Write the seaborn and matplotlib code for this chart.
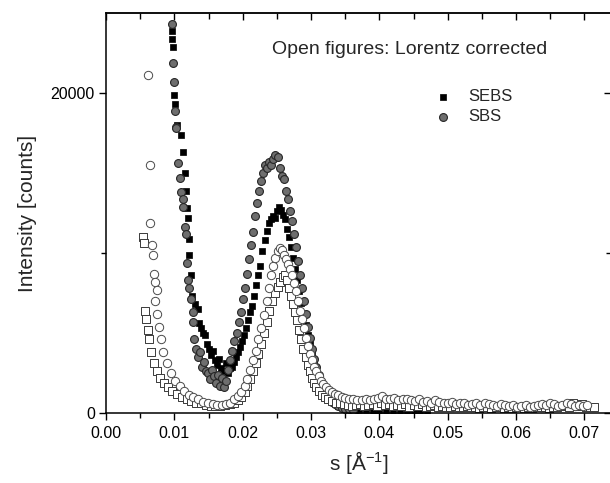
import matplotlib
matplotlib.use("Agg")
import matplotlib.pyplot as plt
import seaborn as sns
import pandas as pd
from matplotlib.ticker import MultipleLocator, FormatStrFormatter, NullFormatter

# ---------------- data ----------------
sebs_x = [0.0096, 0.0097, 0.0098, 0.0100, 0.0101, 0.0104, 0.0110, 0.0112, 0.0115, 0.0117,
          0.0119, 0.0120, 0.0121, 0.0122, 0.0124, 0.0126, 0.0130, 0.0134, 0.0136, 0.0139,
          0.0142, 0.0145, 0.0148, 0.0151, 0.0154, 0.0157, 0.0160, 0.0163, 0.0166, 0.0169,
          0.0172, 0.0175, 0.0178, 0.0181, 0.0184, 0.0187, 0.0190, 0.0193, 0.0196, 0.0199,
          0.0202, 0.0205, 0.0208, 0.0211, 0.0214, 0.0217, 0.0220, 0.0223, 0.0226, 0.0229,
          0.0232, 0.0235, 0.0238, 0.0241, 0.0244, 0.0247, 0.0250, 0.0253, 0.0256, 0.0259,
          0.0262, 0.0265, 0.0268, 0.0271, 0.0274, 0.0277, 0.0280, 0.0283, 0.0286, 0.0289,
          0.0292, 0.0295, 0.0298, 0.0301, 0.0304, 0.0307, 0.0310, 0.0313, 0.0316, 0.0319,
          0.0322, 0.0325, 0.0330, 0.0335, 0.0340, 0.0345, 0.0350, 0.0355, 0.0360, 0.0365,
          0.0370, 0.0380, 0.0390, 0.0400, 0.0410, 0.0420, 0.0430, 0.0440, 0.0450, 0.0460,
          0.0470]
sebs_y = [23900, 23400, 22900, 19900, 19300, 18000, 17400, 16300, 15000, 13900,
          12800, 12200, 10900, 9900, 8600, 7300, 6800, 6500, 5600, 5300,
          5000, 4900, 4300, 4000, 3600, 3900, 3300, 3000, 3400, 2800,
          2600, 3100, 2500, 2800, 2900, 3200, 3500, 3800, 4100, 4500,
          4900, 5300, 5800, 6300, 6700, 7300, 8000, 8600, 9200, 10100,
          10800, 11400, 11900, 12100, 12300, 12200, 12600, 12900, 12700, 12400,
          12100, 11500, 11000, 10400, 9700, 9000, 8300, 7600, 6900, 6200,
          5500, 4900, 4300, 3800, 3300, 2800, 2400, 2000, 1700, 1400,
          1150, 950, 750, 600, 450, 380, 300, 260, 220, 200,
          180, 160, 150, 140, 130, 120, 110, 100, 100, 90,
          90]

sbs_x = [0.0096, 0.0098, 0.0099, 0.0101, 0.0102, 0.0103, 0.0106, 0.0108, 0.0110, 0.0112,
         0.0113, 0.0115, 0.0117, 0.0118, 0.0120, 0.0122, 0.0124, 0.0127, 0.0128, 0.0129,
         0.0131, 0.0134, 0.0137, 0.0140, 0.0143, 0.0146, 0.0149, 0.0152, 0.0155, 0.0158,
         0.0161, 0.0164, 0.0167, 0.0170, 0.0173, 0.0176, 0.0179, 0.0182, 0.0185, 0.0188,
         0.0191, 0.0194, 0.0197, 0.0200, 0.0203, 0.0206, 0.0209, 0.0212, 0.0215, 0.0218,
         0.0221, 0.0224, 0.0227, 0.0230, 0.0233, 0.0236, 0.0239, 0.0242, 0.0245, 0.0248,
         0.0251, 0.0254, 0.0257, 0.0260, 0.0263, 0.0266, 0.0269, 0.0272, 0.0275, 0.0278,
         0.0281, 0.0284, 0.0287, 0.0290, 0.0293, 0.0296, 0.0299, 0.0302, 0.0305, 0.0308,
         0.0311, 0.0314, 0.0317, 0.0320, 0.0323, 0.0326, 0.0330, 0.0335, 0.0340, 0.0345,
         0.0350, 0.0356, 0.0362]
sbs_y = [24300, 21900, 20700, 18900, 17900, 17800, 15600, 14700, 13800, 13400,
         12900, 11600, 11200, 9400, 8300, 7800, 7100, 6300, 5700, 4600,
         4000, 3500, 3800, 2900, 3200, 2600, 2500, 2100, 2700, 2300,
         1900, 2400, 1700, 2200, 1600, 2000, 2700, 3300, 3900, 4500,
         5000, 5700, 6300, 7100, 7800, 8700, 9600, 10500, 11300, 12300,
         13100, 13900, 14500, 15000, 15500, 15300, 15700, 15500, 15900, 16100,
         16000, 15300, 14800, 14600, 13900, 13400, 12600, 12000, 11200, 10400,
         9500, 8600, 7800, 7000, 6200, 5400, 4700, 4000, 3400, 2900,
         2400, 2000, 1650, 1350, 1100, 900, 700, 550, 420, 330,
         270, 220, 180]

sbs_lc_x = [0.0062, 0.0064, 0.0065, 0.0067, 0.0069, 0.0070, 0.0071, 0.0072, 0.0074, 0.0075,
            0.0077, 0.0080, 0.0084, 0.0089, 0.0095, 0.0101, 0.0108, 0.0114, 0.0121, 0.0128,
            0.0135, 0.0142, 0.0149, 0.0156, 0.0163, 0.0170, 0.0176, 0.0182, 0.0188, 0.0193,
            0.0198, 0.0203, 0.0207, 0.0211, 0.0215, 0.0219, 0.0223, 0.0227, 0.0231, 0.0235,
            0.0239, 0.0242, 0.0245, 0.0248, 0.0251, 0.0254, 0.0257, 0.0260, 0.0263, 0.0266,
            0.0269, 0.0272, 0.0275, 0.0278, 0.0281, 0.0284, 0.0287, 0.0290, 0.0293, 0.0296,
            0.0299, 0.0302, 0.0305, 0.0308, 0.0311, 0.0314, 0.0318, 0.0322, 0.0326, 0.0330,
            0.0335, 0.0340, 0.0345, 0.0350, 0.0356, 0.0362, 0.0368, 0.0374, 0.0380, 0.0386,
            0.0392, 0.0398, 0.0404, 0.0410, 0.0416, 0.0422, 0.0428, 0.0434, 0.0440, 0.0446,
            0.0452, 0.0458, 0.0464, 0.0470, 0.0476, 0.0482, 0.0488, 0.0494, 0.0500, 0.0506,
            0.0512, 0.0518, 0.0524, 0.0530, 0.0536, 0.0542, 0.0548, 0.0554, 0.0560, 0.0566,
            0.0572, 0.0578, 0.0584, 0.0590, 0.0596, 0.0602, 0.0608, 0.0614, 0.0620, 0.0626,
            0.0632, 0.0638, 0.0644, 0.0650, 0.0656, 0.0662, 0.0668, 0.0674, 0.0680, 0.0686,
            0.0692, 0.0698, 0.0704]
sbs_lc_y = [21100, 15500, 11900, 10500, 9900, 8700, 7000, 8200, 7700, 6200,
            5400, 4600, 3800, 3100, 2500, 2000, 1700, 1400, 1150, 1000,
            850, 700, 650, 550, 500, 520, 580, 650, 850, 1050,
            1300, 1700, 2100, 2700, 3300, 3900, 4600, 5300, 6100, 7000,
            7800, 8600, 9200, 9700, 10100, 10300, 10200, 9900, 9600, 9300,
            9000, 8600, 8100, 7600, 7000, 6400, 5900, 5300, 4700, 4200,
            3700, 3300, 2900, 2600, 2300, 2000, 1800, 1600, 1450, 1300,
            1200, 1100, 1000, 950, 900, 850, 820, 800, 850, 800,
            900, 950, 1050, 900, 850, 950, 800, 850, 900, 800,
            750, 850, 700, 750, 650, 800, 700, 600, 650, 700,
            550, 600, 650, 500, 550, 600, 500, 650, 550, 500,
            450, 550, 500, 450, 500, 400, 450, 500, 400, 450,
            500, 550, 500, 650, 550, 450, 500, 600, 550, 450,
            500, 450, 500]

sebs_lc_x = [0.0054, 0.0056, 0.0057, 0.0059, 0.0061, 0.0063, 0.0066, 0.0070, 0.0074, 0.0079,
             0.0085, 0.0091, 0.0097, 0.0104, 0.0111, 0.0118, 0.0125, 0.0132, 0.0139, 0.0146,
             0.0153, 0.0160, 0.0167, 0.0174, 0.0181, 0.0187, 0.0193, 0.0198, 0.0203, 0.0207,
             0.0211, 0.0215, 0.0219, 0.0223, 0.0227, 0.0231, 0.0235, 0.0239, 0.0243, 0.0247,
             0.0251, 0.0255, 0.0259, 0.0262, 0.0265, 0.0268, 0.0271, 0.0274, 0.0277, 0.0280,
             0.0283, 0.0286, 0.0289, 0.0292, 0.0295, 0.0298, 0.0301, 0.0304, 0.0308, 0.0312,
             0.0316, 0.0320, 0.0325, 0.0330, 0.0336, 0.0342, 0.0348, 0.0354, 0.0360, 0.0366,
             0.0372, 0.0378, 0.0384, 0.0390, 0.0396, 0.0402, 0.0408, 0.0414, 0.0420, 0.0426,
             0.0432, 0.0438, 0.0444, 0.0450, 0.0456, 0.0462, 0.0468, 0.0474, 0.0480, 0.0486,
             0.0492, 0.0498, 0.0504, 0.0510, 0.0516, 0.0522, 0.0528, 0.0534, 0.0540, 0.0546,
             0.0552, 0.0558, 0.0564, 0.0570, 0.0576, 0.0582, 0.0588, 0.0594, 0.0600, 0.0606,
             0.0612, 0.0618, 0.0624, 0.0630, 0.0636, 0.0642, 0.0648, 0.0654, 0.0660, 0.0666,
             0.0672, 0.0678, 0.0684, 0.0690, 0.0696, 0.0702, 0.0708, 0.0714]
sebs_lc_y = [11000, 10600, 6400, 5900, 5200, 4600, 3800, 3100, 2600, 2200,
             1900, 1600, 1400, 1200, 1000, 850, 750, 650, 600, 500,
             450, 420, 450, 480, 550, 650, 800, 1000, 1300, 1700,
             2100, 2600, 3100, 3700, 4300, 5000, 5700, 6400, 7000, 7500,
             7900, 8200, 8500, 8600, 8300, 7800, 7300, 6800, 6300, 5800,
             5200, 4600, 4000, 3500, 3000, 2600, 2200, 1900, 1600, 1350,
             1150, 1000, 850, 750, 650, 600, 550, 500, 450, 500,
             550, 450, 500, 550, 450, 600, 500, 550, 450, 500,
             450, 550, 400, 500, 450, 550, 400, 450, 500, 400,
             450, 350, 400, 450, 350, 400, 450, 350, 400, 300,
             400, 350, 300, 350, 400, 300, 350, 300, 350, 400,
             300, 350, 300, 350, 400, 350, 300, 400, 350, 450,
             500, 400, 600, 450, 550, 400, 350, 400]

x_ticks = [0.00, 0.01, 0.02, 0.03, 0.04, 0.05, 0.06, 0.07]
y_ticks = [0, 20000]
series_labels = ["SEBS", "SBS"]
annotation = "Open figures: Lorentz corrected"

# ---------------- styling ----------------
sns.set_theme(style="ticks")
plt.rcParams["font.family"] = ["Liberation Sans", "DejaVu Sans"]
plt.rcParams["mathtext.fontset"] = "custom"
plt.rcParams["mathtext.rm"] = "Liberation Sans"
plt.rcParams["mathtext.it"] = "Liberation Sans"
plt.rcParams["mathtext.default"] = "regular"

W, H = 610, 483
fig = plt.figure(figsize=(W / 100, H / 100), dpi=100)
fig.patch.set_facecolor("white")
L, R, T, B = 106, 611, 13, 413
ax = fig.add_axes([L / W, 1 - B / H, (R - L) / W, (B - T) / H])
ax.set_facecolor("white")

df_sebs = pd.DataFrame({"s": sebs_x, "I": sebs_y})
df_sbs = pd.DataFrame({"s": sbs_x, "I": sbs_y})
df_sebs_lc = pd.DataFrame({"s": sebs_lc_x, "I": sebs_lc_y})
df_sbs_lc = pd.DataFrame({"s": sbs_lc_x, "I": sbs_lc_y})

sns.scatterplot(data=df_sebs, x="s", y="I", ax=ax, marker="s", s=20,
                color="black", edgecolor="black", linewidth=0.5, label=series_labels[0])
sns.scatterplot(data=df_sbs, x="s", y="I", ax=ax, marker="o", s=32,
                color="#6e6e6e", edgecolor="#262626", linewidth=0.8, label=series_labels[1])
sns.scatterplot(data=df_sebs_lc, x="s", y="I", ax=ax, marker="s", s=28,
                facecolor="white", edgecolor="#3a3a3a", linewidth=0.7, legend=False)
sns.scatterplot(data=df_sbs_lc, x="s", y="I", ax=ax, marker="o", s=36,
                facecolor="white", edgecolor="#4a4a4a", linewidth=0.7, legend=False)

ax.set_xlim(0, 0.0739)
ax.set_ylim(0, 25000)
ax.set_xticks(x_ticks)
ax.set_yticks(y_ticks)
ax.xaxis.set_major_formatter(FormatStrFormatter("%.2f"))
ax.xaxis.set_minor_locator(MultipleLocator(0.005))
ax.yaxis.set_minor_locator(MultipleLocator(10000))

for sp in ax.spines.values():
    sp.set_visible(True)
    sp.set_linewidth(1.1)
    sp.set_color("black")

ax.tick_params(axis="x", which="both", bottom=True, top=False, direction="out",
               labelsize=11.5, colors="black", width=1.0, pad=4)
ax.tick_params(axis="y", which="both", left=True, right=False, direction="out",
               labelsize=11.5, colors="black", width=1.0, pad=3)
ax.tick_params(which="major", length=5)
ax.tick_params(which="minor", length=3.5)

# mirrored ticks on top and right, pointing inward
secx = ax.secondary_xaxis("top")
secx.set_xticks(x_ticks)
secx.xaxis.set_minor_locator(MultipleLocator(0.005))
secx.xaxis.set_major_formatter(NullFormatter())
secx.tick_params(which="both", direction="in", width=1.0, colors="black")
secx.tick_params(which="major", length=5)
secx.tick_params(which="minor", length=4)
secx.spines["top"].set_linewidth(1.1)

secy = ax.secondary_yaxis("right")
secy.set_yticks(y_ticks)
secy.yaxis.set_minor_locator(MultipleLocator(10000))
secy.yaxis.set_major_formatter(NullFormatter())
secy.tick_params(which="both", direction="in", width=1.0, colors="black")
secy.tick_params(which="major", length=5)
secy.tick_params(which="minor", length=3.5)

ax.set_xlabel("s [Å$^{-1}$]", fontsize=15, labelpad=6)
ax.set_ylabel("Intensity [counts]", fontsize=15, labelpad=10)

fig.text(272 / W, 1 - 50 / H, annotation, fontsize=14, ha="left", va="center")

handles, labels = ax.get_legend_handles_labels()
ax.legend(handles[:2], labels[:2], loc="upper left",
          bbox_to_anchor=(435 / W, 1 - 89 / H), bbox_transform=fig.transFigure,
          frameon=False, fontsize=12, borderpad=0, borderaxespad=0,
          handlelength=1.0, handletextpad=1.0, labelspacing=0.3,
          scatterpoints=1, markerscale=1.0)

fig.savefig("out.png", dpi=100, facecolor="white")
